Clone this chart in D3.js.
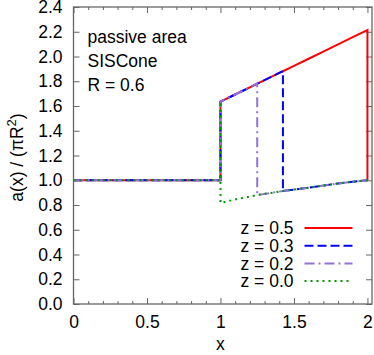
<!DOCTYPE html>
<html>
<head>
<meta charset="utf-8">
<script src="https://cdn.jsdelivr.net/npm/d3@7"></script>
<style>
  body { margin: 0; background: #fff; }
  svg { display: block; font-family: 'Liberation Sans', Arial, sans-serif; }
</style>
</head>
<body>
<svg id="chart" width="374" height="355"></svg>
<script>
// curve points for x > 1 (upper branch and lower branch)
const xGrid = [1.0, 1.1, 1.2, 1.25, 1.3, 1.4, 1.425, 1.5, 1.6, 1.7, 1.8, 1.9, 2.0];
const upperA = [1.635, 1.693, 1.751, 1.780, 1.809, 1.867, 1.881, 1.925, 1.982, 2.040, 2.098, 2.156, 2.214];
const lowerA = [0.816, 0.845, 0.868, 0.880, 0.890, 0.908, 0.913, 0.925, 0.940, 0.957, 0.974, 0.988, 1.000];

const zLabels = ['z = 0.5', 'z = 0.3', 'z = 0.2', 'z = 0.0'];
const zCuts = [2.0, 1.425, 1.25, 1.0];   // x where the curve drops from upper to lower branch
const colors = ['#ff0000', '#0000ff', '#9370db', '#009a00'];
const dashes = [null, '9,4', '10,4,2,4', '2,4'];

const xTicks = [0, 0.5, 1, 1.5, 2];
const yTicks = [0, 0.2, 0.4, 0.6, 0.8, 1.0, 1.2, 1.4, 1.6, 1.8, 2.0, 2.2, 2.4];
const notes = ['passive area', 'SISCone', 'R = 0.6'];

const fontSize = '17.5px';

const svg = d3.select('#chart');
const margin = { top: 7, right: 2, bottom: 51, left: 73.5 };
const width = +svg.attr('width') - margin.left - margin.right;
const height = +svg.attr('height') - margin.top - margin.bottom;

const g = svg.append('g').attr('transform', `translate(${margin.left},${margin.top})`);

const x = d3.scaleLinear().domain([0, 2.031]).range([0, width]);
const y = d3.scaleLinear().domain([0, 2.4]).range([height, 0]);

const minor = d3.range(0, 2.001, 0.1).filter(v => Math.abs(v * 2 - Math.round(v * 2)) > 1e-6);

// build each series: flat at 1, jump at x=1, upper branch until cut, lower branch after
const series = zCuts.map((cut, i) => {
  const pts = [[0, 1], [1, 1]];
  xGrid.forEach((xv, k) => { if (xv <= cut + 1e-9) pts.push([xv, upperA[k]]); });
  xGrid.forEach((xv, k) => { if (xv >= cut - 1e-9) pts.push([xv, lowerA[k]]); });
  return { label: zLabels[i], color: colors[i], dash: dashes[i], pts };
});

const line = d3.line().x(d => x(d[0])).y(d => y(d[1]));

function styleAxis(sel) {
  sel.select('.domain').remove();
  sel.selectAll('line').attr('stroke', '#666').attr('stroke-width', 1);
  sel.selectAll('text').attr('fill', '#000').style('font-size', fontSize)
    .style('font-family', "'Liberation Sans', Arial, sans-serif");
}

// x axis bottom + top
g.append('g').attr('transform', `translate(0,${height})`)
  .call(d3.axisBottom(x).tickValues(xTicks).tickSize(-6).tickPadding(12).tickFormat(d3.format('')))
  .call(styleAxis);
g.append('g').attr('transform', `translate(0,${height})`)
  .call(d3.axisBottom(x).tickValues(minor).tickSize(-3).tickFormat(''))
  .call(styleAxis);
g.append('g')
  .call(d3.axisTop(x).tickValues(xTicks).tickSize(-6).tickFormat(''))
  .call(styleAxis);
g.append('g')
  .call(d3.axisTop(x).tickValues(minor).tickSize(-3).tickFormat(''))
  .call(styleAxis);

// y axis left + right
g.append('g')
  .call(d3.axisLeft(y).tickValues(yTicks).tickSize(-6).tickPadding(11).tickFormat(d3.format('.1f')))
  .call(styleAxis);
g.append('g').attr('transform', `translate(${width},0)`)
  .call(d3.axisRight(y).tickValues(yTicks).tickSize(-6).tickFormat(''))
  .call(styleAxis);

// curves
g.selectAll('.curve')
  .data(series)
  .enter().append('path')
  .attr('class', 'curve')
  .attr('fill', 'none')
  .attr('stroke', d => d.color)
  .attr('stroke-width', 2)
  .attr('stroke-dasharray', d => d.dash)
  .attr('d', d => line(d.pts));

// frame
g.append('rect')
  .attr('width', width).attr('height', height)
  .attr('fill', 'none').attr('stroke', '#666').attr('stroke-width', 1.3);

// notes
g.selectAll('.note')
  .data(notes)
  .enter().append('text')
  .attr('x', 14)
  .attr('y', (d, i) => 36 + i * 24)
  .style('font-size', fontSize)
  .text(d => d);

// legend
const leg = g.selectAll('.leg')
  .data(series)
  .enter().append('g')
  .attr('transform', (d, i) => `translate(0,${221 + i * 17.7})`);
leg.append('text')
  .attr('x', 220)
  .attr('dy', '0.35em')
  .attr('text-anchor', 'end')
  .style('font-size', fontSize)
  .text(d => d.label);
leg.append('line')
  .attr('x1', 231).attr('x2', 279)
  .attr('stroke', d => d.color)
  .attr('stroke-width', 2)
  .attr('stroke-dasharray', d => d.dash);

// axis titles
svg.append('text')
  .attr('x', margin.left + x(1))
  .attr('y', 350)
  .attr('text-anchor', 'middle')
  .style('font-size', fontSize)
  .text('x');

const yt = svg.append('text')
  .attr('transform', `translate(23,${margin.top + height / 2 + 2}) rotate(-90)`)
  .attr('text-anchor', 'middle')
  .style('font-size', fontSize);
yt.append('tspan').text('a(x) / (πR');
yt.append('tspan').attr('dy', -7).style('font-size', '13px').text('2');
yt.append('tspan').attr('dy', 7).text(')');
</script>
</body>
</html>
